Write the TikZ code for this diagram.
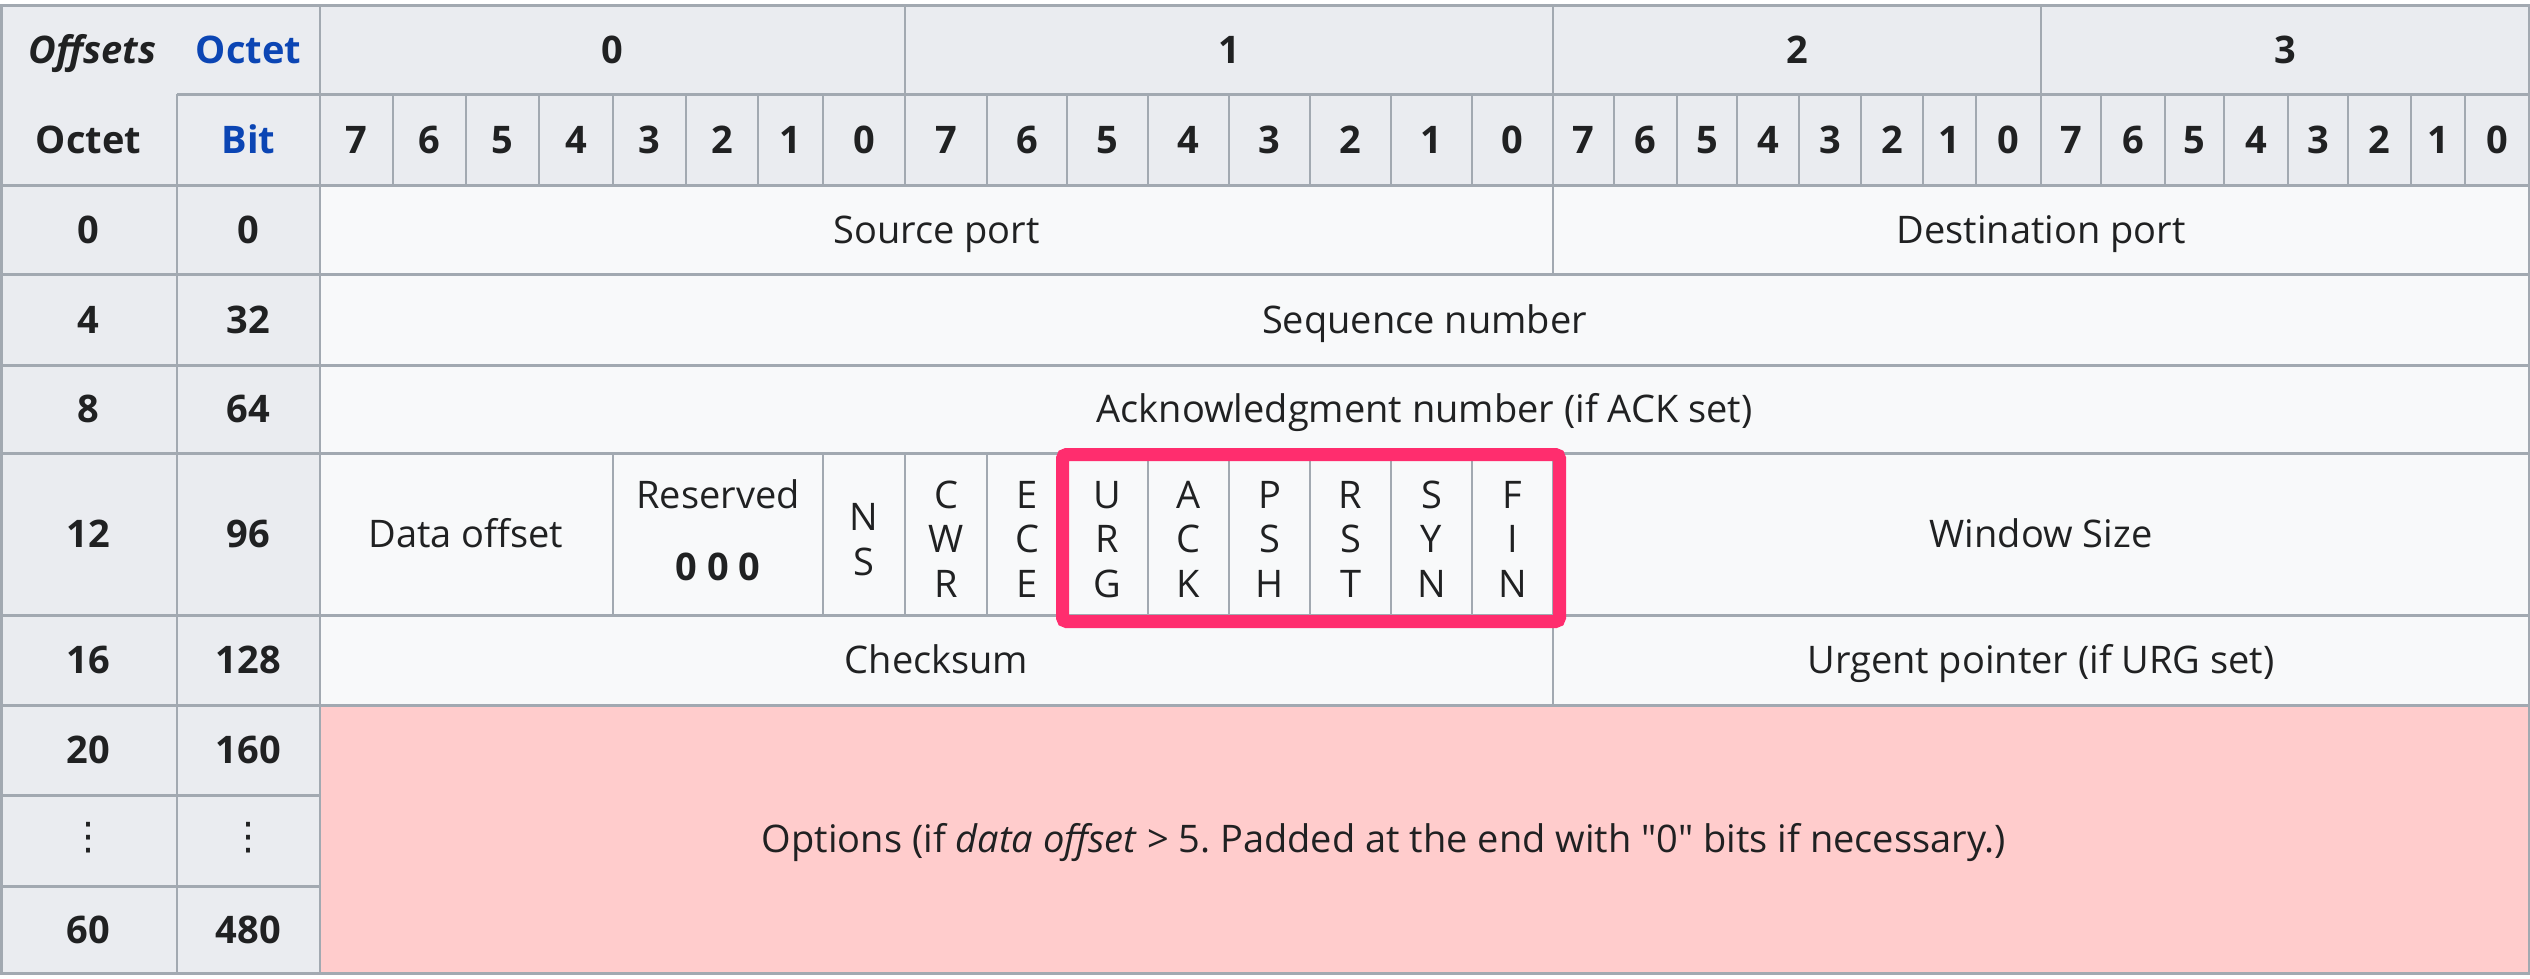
\documentclass[tikz,border=0pt]{standalone}
\usepackage{fontspec}
\setmainfont{Open Sans}
\newfontfamily\plainos{Open Sans}
\newfontfamily\dejavu{DejaVu Sans}
\frenchspacing
\definecolor{hdr}{HTML}{EAECF0}
\definecolor{dat}{HTML}{F8F9FA}
\definecolor{brd}{HTML}{A2A9B1}
\definecolor{optc}{HTML}{FFCCCC}
\definecolor{pinkc}{RGB}{255,45,110}
\definecolor{tx}{HTML}{202122}
\definecolor{lnk}{HTML}{0B45B4}
\newcommand{\fsz}{\fontsize{38}{46}\selectfont}
\newcommand{\sq}{{\plainos"}}
\newcommand{\flagtxt}[5]{%
  \node[txt] (#1a) at (#2,508) {#3};
  \node[txt] (#1b) at (#2,552.5) {#4};
  \node[txt] (#1c) at (#2,597) {#5};}
\begin{document}
\begin{tikzpicture}[x=1pt,y=-1pt,
  txt/.style={anchor=base,inner sep=0pt,text=tx,font=\fsz},
  hd/.style={anchor=base,inner sep=0pt,text=tx,font=\fsz\bfseries},
  vline/.style={draw=brd,line width=2pt},
  hline/.style={draw=brd,line width=3pt}]
\useasboundingbox[fill=white] (0,0) rectangle (2530,978);
% fills
\fill[hdr] (1,5) rectangle (2529,185);
\fill[hdr] (1,185) rectangle (320,973);
\fill[dat] (320,185) rectangle (2529,705);
\fill[optc] (320,705) rectangle (2529,973);
% lines
\draw[hline] (177,94) -- (2529,94);
\foreach \y in {185,274,365,453,615,705} \draw[hline] (1,\y) -- (2529,\y);
\foreach \y in {795,886} \draw[hline] (1,\y) -- (320,\y);
\draw[vline] (177,94) -- (177,973);
\draw[vline] (320,5) -- (320,973);
\foreach \x in {905,1553,2041} \draw[vline] (\x,5) -- (\x,185);
\foreach \x in {393,466,539,613,686,758,823,987,1067,1148,1229,1310,1391,1472,1614,1677,1737,1799,1861,1923,1976,2101,2165,2224,2288,2348,2411,2465}
  \draw[vline] (\x,94) -- (\x,185);
\draw[vline] (1553,185) -- (1553,274);
\foreach \x in {613,823,905,987,1067,1148,1229,1310,1391,1472,1553}
  \draw[vline] (\x,453) -- (\x,615);
\draw[vline] (1553,615) -- (1553,705);
\draw[brd,line width=3pt] (1,5) rectangle (2529,973);
% highlight
\draw[pinkc,line width=13pt,rounded corners=4pt] (1062.5,454.5) rectangle (1559.5,621.5);
% header texts
\node[anchor=base,inner sep=0pt,text=tx,font=\fsz\bfseries\itshape] (offs) at (92.5,63) {Offsets};
\node[hd,text=lnk] (octh) at (248.5,63) {Octet};
\node[hd] (oct0) at (612.5,63) {0};
\node[hd] (oct1) at (1229,63) {1};
\node[hd] (oct2) at (1797,63) {2};
\node[hd] (oct3) at (2285,63) {3};
\node[hd] (octv) at (88.5,153) {Octet};
\node[hd,text=lnk] (bith) at (248.5,153) {Bit};
\foreach \x/\d [count=\i] in {356.5/7,429.5/6,502.5/5,576/4,649.5/3,722/2,790.5/1,864/0,
  946/7,1027/6,1107.5/5,1188.5/4,1269.5/3,1350.5/2,1431.5/1,1512.5/0,
  1583.5/7,1645.5/6,1707/5,1768/4,1830/3,1892/2,1949.5/1,2008.5/0,
  2071/7,2133/6,2194.5/5,2256/4,2318/3,2379.5/2,2438/1,2497/0}
  \node[hd] (bit\i) at (\x,153) {\d};
% row offsets
\foreach \y/\o/\b [count=\i] in {243/0/0,333/4/32,422.5/8/64,547.5/12/96,673.5/16/128,763.5/20/160,943/60/480}{
  \node[hd] (ro\i) at (88.5,\y) {\o};
  \node[hd] (rb\i) at (248.5,\y) {\b};}
\node[anchor=center,inner sep=0pt,text=tx,font=\dejavu\fsz] (rodots) at (88.5,838) {⋮};
\node[anchor=center,inner sep=0pt,text=tx,font=\dejavu\fsz] (rbdots) at (248.5,838) {⋮};
% data texts
\node[txt] (src) at (936.5,243) {Source port};
\node[txt] (dst) at (2041,243) {Destination port};
\node[txt] (seq) at (1424.5,333) {Sequence number};
\node[txt] (ack) at (1424.5,422.5) {Acknowledgment number (if ACK set)};
\node[txt] (doff) at (466,547.5) {Data offset};
\node[txt] (resv) at (718,508) {Reserved};
\node[hd] (rzero) at (718,580) {0 0 0};
\node[txt] (nsa) at (864,530.5) {N};
\node[txt] (nsb) at (864,575) {S};
\flagtxt{cwr}{946}{C}{W}{R}
\flagtxt{ece}{1027}{E}{C}{E}
\flagtxt{urg}{1107.5}{U}{R}{G}
\flagtxt{ackf}{1188.5}{A}{C}{K}
\flagtxt{psh}{1269.5}{P}{S}{H}
\flagtxt{rst}{1350.5}{R}{S}{T}
\flagtxt{syn}{1431.5}{S}{Y}{N}
\flagtxt{fin}{1512.5}{F}{I}{N}
\node[txt] (win) at (2041,547.5) {Window Size};
\node[txt] (chk) at (936.5,673.5) {Checksum};
\node[txt] (urp) at (2041,673.5) {Urgent pointer (if URG set)};
\node[txt] (opts) at (1384,852.5) {Options (if \textit{data offset} > 5. Padded at the end with \sq 0\sq{} bits if necessary.)};
\end{tikzpicture}
\end{document}
